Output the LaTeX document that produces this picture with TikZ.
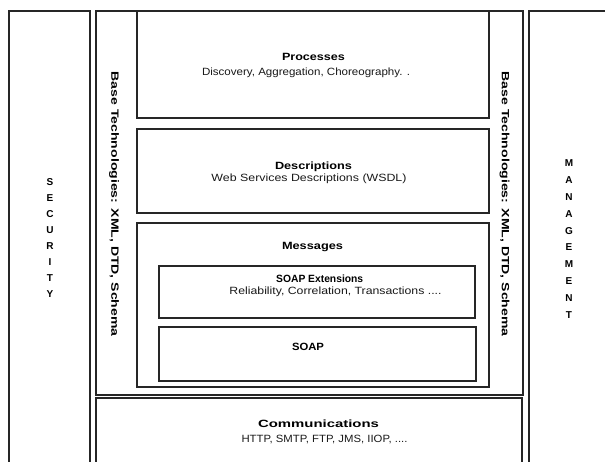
\documentclass[tikz,border=0pt]{standalone}
\usepackage{fontspec}
\setmainfont{Liberation Sans}
\usepackage{graphicx}
\newcommand{\tw}[2]{\resizebox{#1pt}{\height}{#2}}
\begin{document}
\begin{tikzpicture}[x=1pt,y=-1pt,
  box/.style={draw=black!85, line width=1.1pt},
  lbl/.style={inner sep=0pt, anchor=base, text=black!90, font=\fontsize{10.5}{12}\selectfont},
  ttl/.style={inner sep=0pt, anchor=base, text=black, font=\fontsize{10.5}{12}\selectfont\bfseries},
  vlbl/.style={inner sep=0pt, rotate=-90, text=black, font=\fontsize{10.5}{12}\selectfont\bfseries},
  letter/.style={inner sep=0pt, text=black, font=\fontsize{10}{12}\selectfont\bfseries}]
\useasboundingbox (0,0) rectangle (605,461);
\begin{scope}
\clip (0,0) rectangle (605,461);
% outer columns
\draw[box] (9,11) rectangle (90,480);
\draw[box] (96,11) rectangle (523,395);
\draw[box] (529,11) rectangle (640,480);
\draw[box] (96,398) rectangle (522,480);
% inner stack
\draw[box] (137,11) rectangle (489,118);
\draw[box] (137,129) rectangle (489,213);
\draw[box] (137,223) rectangle (489,387);
\draw[box] (159,266) rectangle (475,318);
\draw[box] (159,327) rectangle (476,381);
\end{scope}
% texts
\node[ttl] (proc) at (313.5,60.5) {\tw{63}{Processes}};
\node[lbl] (procd) at (306,75) {\tw{208}{Discovery, Aggregation, Choreography. .}};
\node[ttl] (desc) at (313.5,169) {\tw{77}{Descriptions}};
\node[lbl] (descd) at (309,181.5) {\tw{195}{Web Services Descriptions (WSDL)}};
\node[ttl] (msg) at (312.5,249) {\tw{61}{Messages}};
\node[ttl] (sext) at (319.7,282) {\tw{87}{SOAP Extensions}};
\node[lbl] (sextd) at (335.5,294) {\tw{212}{Reliability, Correlation, Transactions ....}};
\node[ttl] (soap) at (308,350.7) {\tw{32}{SOAP}};
\node[ttl] (comm) at (318.5,427.3) {\tw{121}{Communications}};
\node[lbl] (commd) at (324.5,442.3) {\tw{166}{HTTP, SMTP, FTP, JMS, IIOP, ....}};
\node[vlbl] (basel) at (114,204.2) {\tw{265}{Base Technologies: XML, DTD, Schema}};
\node[vlbl] (baser) at (504.5,204.2) {\tw{265}{Base Technologies: XML, DTD, Schema}};
\foreach \c [count=\i from 0] in {S,E,C,U,R,I,T,Y}
  \node[letter] (sec\i) at (50,181.7+16*\i) {\c};
\foreach \c [count=\i from 0] in {M,A,N,A,G,E,M,E,N,T}
  \node[letter] (man\i) at (569,163.3+16.85*\i) {\c};
\end{tikzpicture}
\end{document}
